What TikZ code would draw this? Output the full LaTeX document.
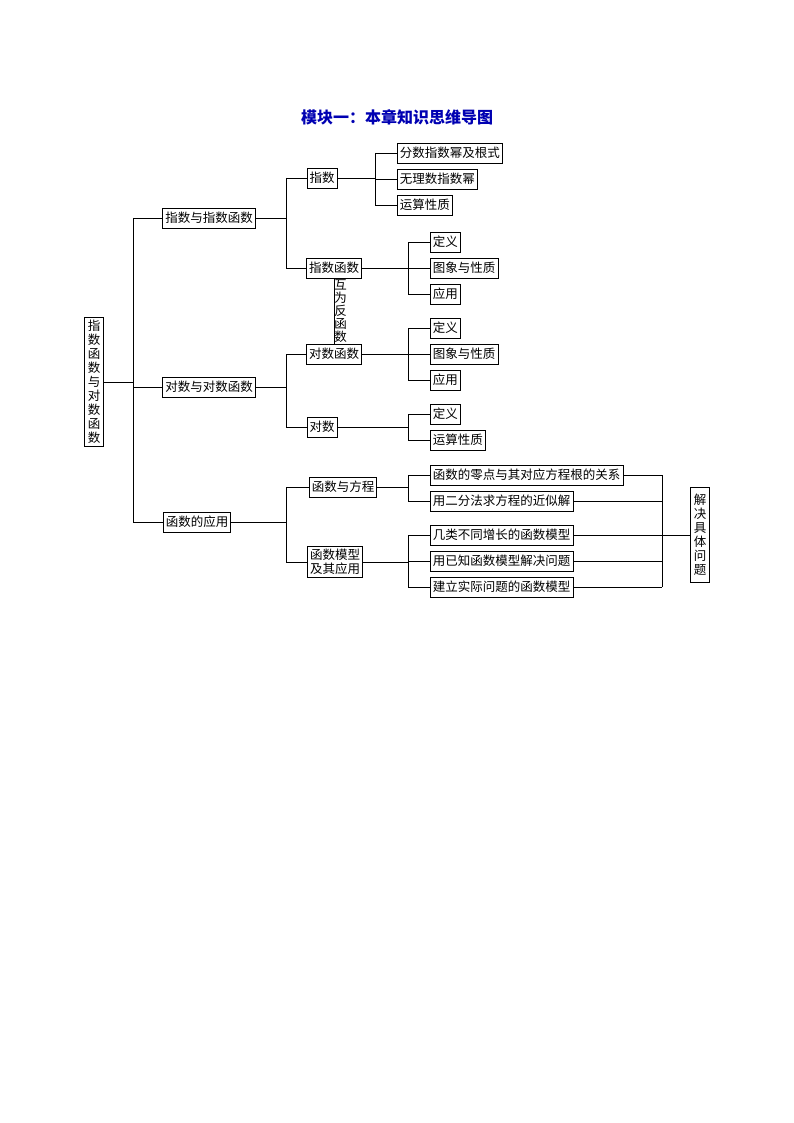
\documentclass[tikz,border=0pt]{standalone}
\usepackage{fontspec}
\setmainfont{Noto Sans CJK SC}
\begin{document}
\begin{tikzpicture}[x=1pt,y=-1pt,line width=0.8pt,
  box/.style={draw,font=\fontsize{12.5}{14}\selectfont,inner sep=2.5pt,minimum height=20pt},
  vbox/.style={box,align=center,inner xsep=3pt,font=\fontsize{12.5}{14}\selectfont}]
\useasboundingbox (0,0) rectangle (794,1123);
\node[font=\fontsize{16}{18}\selectfont\bfseries,text=blue!70!black] (title) at (397,117) {模块一：本章知识思维导图};
% root and first level
\node[vbox,minimum height=128pt] (root) at (94,382) {指\\数\\函\\数\\与\\对\\数\\函\\数};
\node[box] (A) at (209,218) {指数与指数函数};
\node[box] (B) at (209,387) {对数与对数函数};
\node[box] (C) at (197,522) {函数的应用};
% second level
\node[box] (A1) at (322,178) {指数};
\node[box] (A2) at (334,268) {指数函数};
\node[box] (B1) at (334,354) {对数函数};
\node[box] (B2) at (322,427) {对数};
\node[box] (C1) at (343,487) {函数与方程};
\node[box,align=left] (C2) at (335,562) {函数模型\\及其应用};
% third level
\node[box,anchor=west] (A11) at (397,153) {分数指数幂及根式};
\node[box,anchor=west] (A12) at (397,179) {无理数指数幂};
\node[box,anchor=west] (A13) at (397,205) {运算性质};
\node[box,anchor=west] (A21) at (430,242) {定义};
\node[box,anchor=west] (A22) at (430,268) {图象与性质};
\node[box,anchor=west] (A23) at (430,294) {应用};
\node[box,anchor=west] (B11) at (430,328) {定义};
\node[box,anchor=west] (B12) at (430,354) {图象与性质};
\node[box,anchor=west] (B13) at (430,380) {应用};
\node[box,anchor=west] (B21) at (430,414) {定义};
\node[box,anchor=west] (B22) at (430,440) {运算性质};
\node[box,anchor=west] (C11) at (430,475) {函数的零点与其对应方程根的关系};
\node[box,anchor=west] (C12) at (430,501) {用二分法求方程的近似解};
\node[box,anchor=west] (C21) at (430,535) {几类不同增长的函数模型};
\node[box,anchor=west] (C22) at (430,561) {用已知函数模型解决问题};
\node[box,anchor=west] (C23) at (430,587) {建立实际问题的函数模型};
\node[vbox,minimum height=95pt] (D) at (700,535) {解\\决\\具\\体\\问\\题};
% connectors
\draw (root.east) -- (133,382);
\foreach \n in {A,B,C} \draw (133,0 |- \n.west) -- (\n.west);
\draw (133,0 |- A.west) -- (133,0 |- C.west);
\foreach \p/\u/\v in {A/A1/A2,B/B1/B2,C/C1/C2} {
  \draw (\p.east) -- (286,0 |- \p.east);
  \draw (286,0 |- \u.west) -- (286,0 |- \v.west);
  \draw (286,0 |- \u.west) -- (\u.west);
  \draw (286,0 |- \v.west) -- (\v.west);
}
\draw (A1.east) -- (375,0 |- A1.east);
\draw (375,0 |- A11.west) -- (375,0 |- A13.west);
\foreach \n in {A11,A12,A13} \draw (375,0 |- \n.west) -- (\n.west);
\foreach \p/\u/\v in {A2/A21/A23,B1/B11/B13,B2/B21/B22,C1/C11/C12,C2/C21/C23} {
  \draw (\p.east) -- (408,0 |- \p.east);
  \draw (408,0 |- \u.west) -- (408,0 |- \v.west);
}
\foreach \n in {A21,A22,A23,B11,B12,B13,B21,B22,C11,C12,C21,C22,C23} \draw (408,0 |- \n.west) -- (\n.west);
\foreach \n in {C11,C12,C21,C22,C23} \draw (\n.east) -- (662,0 |- \n.east);
\draw (662,0 |- C11.east) -- (662,0 |- C23.east);
\draw (662,0 |- D.west) -- (D.west);
\draw (A2.south) -- (B1.north) node[midway,right=-1pt,align=center,inner sep=1pt,font=\fontsize{12.5}{13}\selectfont] (inv) {互\\为\\反\\函\\数};
\end{tikzpicture}
\end{document}
